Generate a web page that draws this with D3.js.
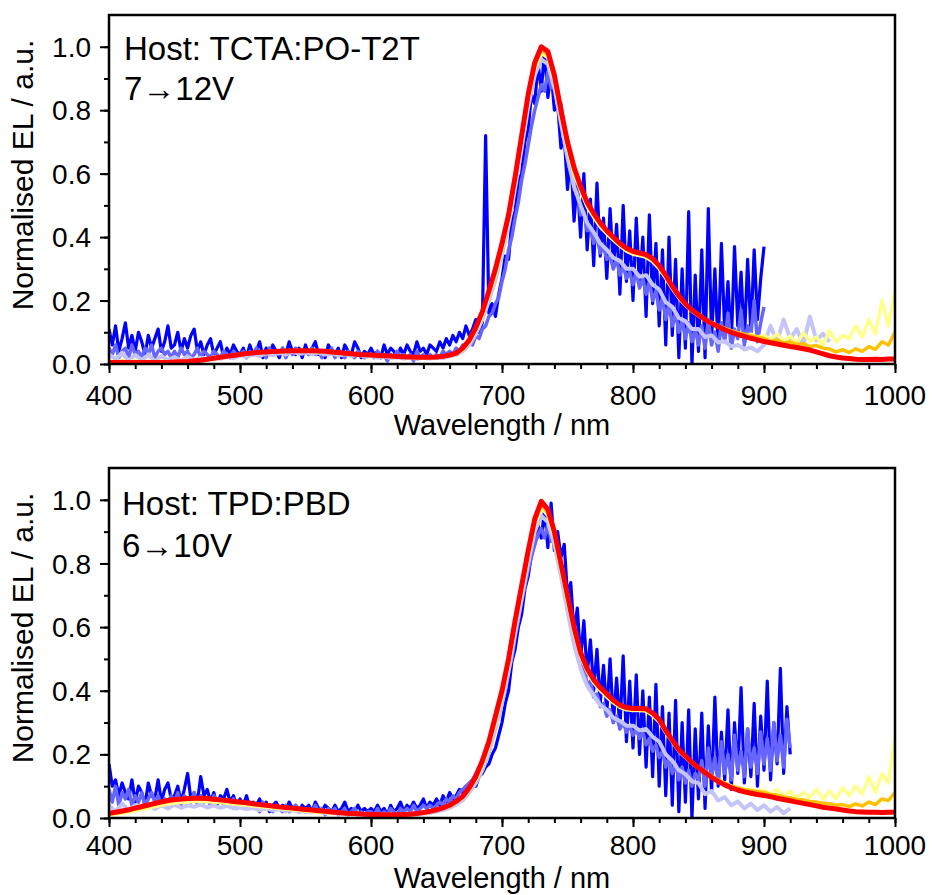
<!DOCTYPE html>
<html>
<head>
<meta charset="utf-8">
<script src="https://cdn.jsdelivr.net/npm/d3@7"></script>
<style>
body { margin: 0; background: #fff; }
text { font-family: "Liberation Sans", Arial, sans-serif; fill: #000; }
</style>
</head>
<body>
<svg id="chart" width="932" height="895"></svg>
<script>
// every spectrum starts at 400 nm; noisy blue traces have one value per 2.5 nm, the rest per 5 nm
var wlStart = 400;
var xMajor = [400, 500, 600, 700, 800, 900, 1000];
var yMajor = [0, 0.2, 0.4, 0.6, 0.8, 1.0];

// ---- top panel, TCTA:PO-T2T, 7 -> 12 V ----
var topRed = [
  .005,.005,.005,.005,.005,.005,.005,.005,.005,.005,
  .006,.007,.008,.010,.012,.015,.018,.021,.024,.027,
  .030,.033,.035,.037,.038,.039,.040,.041,.042,.042,
  .042,.042,.041,.040,.038,.036,.034,.032,.030,.029,
  .028,.027,.026,.025,.024,.023,.022,.021,.021,.021,
  .022,.024,.028,.034,.050,.075,.115,.165,.230,.300,
  .380,.470,.590,.720,.850,.950,1.00,.985,.910,.800,
  .700,.620,.560,.510,.475,.445,.420,.400,.380,.365,
  .355,.350,.345,.332,.310,.280,.245,.215,.190,.170,
  .155,.140,.128,.118,.108,.100,.093,.087,.081,.076,
  .071,.067,.063,.059,.055,.052,.048,.044,.038,.032,
  .026,.022,.019,.017,.015,.014,.014,.015,.014,.016,
  .016
];
var topOrange = [
  .008,.006,.009,.005,.007,.006,.008,.005,.007,.006,
  .008,.008,.010,.011,.014,.016,.019,.022,.025,.028,
  .031,.033,.036,.037,.039,.040,.040,.042,.041,.043,
  .041,.042,.040,.040,.037,.036,.033,.032,.030,.028,
  .028,.026,.026,.024,.024,.022,.022,.020,.021,.020,
  .022,.023,.027,.033,.048,.072,.110,.160,.225,.290,
  .370,.460,.580,.710,.840,.940,.990,.975,.900,.790,
  .690,.610,.555,.505,.470,.440,.418,.398,.378,.362,
  .352,.348,.342,.330,.306,.277,.243,.214,.190,.171,
  .157,.142,.131,.121,.112,.105,.099,.094,.089,.085,
  .080,.072,.076,.066,.070,.062,.064,.055,.058,.050,
  .047,.038,.045,.036,.048,.040,.055,.046,.070,.060,
  .100
];
var topYellow = [
  .012,.004,.010,.006,.011,.003,.009,.005,.010,.004,
  .009,.006,.011,.009,.013,.014,.017,.019,.023,.025,
  .029,.030,.034,.034,.037,.037,.039,.039,.041,.040,
  .041,.039,.040,.037,.037,.034,.033,.030,.030,.027,
  .028,.025,.026,.023,.024,.021,.022,.019,.021,.019,
  .021,.022,.026,.031,.045,.068,.105,.150,.215,.280,
  .360,.450,.570,.700,.830,.930,.980,.965,.890,.780,
  .680,.600,.545,.495,.462,.432,.410,.390,.372,.356,
  .346,.342,.336,.322,.300,.270,.237,.208,.185,.166,
  .152,.138,.127,.118,.110,.102,.098,.090,.094,.085,
  .090,.078,.095,.070,.088,.065,.098,.072,.085,.060,
  .105,.070,.090,.080,.120,.085,.140,.095,.200,.120,
  .230
];
var topLavender = [
  .030,.015,.035,.010,.028,.012,.030,.008,.025,.012,
  .022,.010,.024,.012,.020,.014,.022,.016,.024,.018,
  .028,.022,.032,.025,.034,.028,.036,.030,.038,.032,
  .037,.031,.036,.030,.034,.027,.031,.025,.029,.023,
  .026,.020,.024,.019,.023,.017,.021,.016,.020,.017,
  .020,.019,.024,.028,.040,.060,.095,.140,.200,.265,
  .345,.435,.555,.680,.810,.910,.960,.945,.870,.760,
  .650,.560,.500,.445,.415,.380,.360,.335,.325,.300,
  .300,.275,.280,.250,.235,.195,.180,.145,.135,.110,
  .110,.085,.090,.068,.072,.055,.060,.046,.052,.040,
  .060,.120,.070,.140,.080,.110,.060,.150,.075,.095,
  .070
];
var topMidBlue = [
  .05,.03,.06,.02,.04,.05,.02,.06,.03,.04,.02,.05,.03,.06,.02,.04,.05,.03,.04,.02,
  .04,.02,.05,.03,.04,.02,.03,.05,.02,.04,.03,.02,.04,.03,.02,.04,.03,.02,.04,.03,
  .03,.04,.02,.04,.03,.05,.03,.04,.02,.05,.03,.04,.03,.05,.02,.04,.03,.05,.04,.03,
  .04,.03,.05,.03,.04,.02,.04,.03,.05,.02,.04,.03,.02,.04,.03,.02,.04,.03,.02,.03,
  .03,.02,.04,.02,.03,.01,.03,.02,.04,.02,.03,.02,.03,.01,.04,.02,.03,.02,.03,.02,
  .03,.02,.04,.03,.04,.03,.05,.04,.06,.05,.07,.06,.09,.08,.11,.12,.15,.16,.19,.21,
  .26,.30,.36,.40,.46,.51,.58,.63,.69,.75,.80,.84,.88,.86,.92,.87,.90,.83,.82,.74,
  .66,.62,.55,.54,.47,.48,.42,.43,.38,.40,.35,.37,.33,.34,.30,.33,.28,.31,.27,.29,
  .25,.29,.24,.27,.22,.26,.20,.23,.17,.21,.14,.19,.12,.16,.10,.14,.08,.13,.07,.11,
  .06,.12,.05,.14,.06,.10,.04,.13,.07,.16,.05,.11,.08,.17,.06,.12,.09,.20,.07,.13,
  .18
];
var topBlue = [
  .11,.06,.12,.04,.08,.13,.05,.09,.04,.10,.07,.03,.09,.05,.08,.11,.04,.07,.12,.05,
  .06,.10,.04,.08,.05,.09,.11,.04,.07,.03,.06,.08,.03,.05,.07,.02,.05,.03,.06,.04,
  .03,.05,.02,.06,.03,.04,.07,.02,.05,.03,.06,.04,.02,.05,.03,.07,.04,.03,.05,.02,
  .06,.03,.05,.07,.03,.04,.02,.06,.04,.03,.05,.02,.06,.04,.03,.07,.05,.02,.04,.03,
  .05,.03,.04,.02,.06,.03,.05,.04,.02,.05,.03,.06,.04,.03,.07,.04,.05,.03,.06,.05,
  .04,.07,.05,.08,.06,.09,.07,.10,.08,.12,.09,.11,.14,.10,.13,.72,.16,.19,.15,.22,
  .27,.34,.33,.45,.48,.58,.60,.70,.74,.85,.82,.95,.86,.99,.84,.92,.80,.82,.68,.72,
  .55,.66,.45,.58,.40,.60,.36,.52,.31,.57,.34,.46,.27,.49,.30,.44,.22,.50,.26,.42,
  .20,.46,.24,.40,.15,.47,.19,.38,.12,.36,.06,.40,.09,.33,.02,.30,.05,.48,.00,.28,
  .04,.36,.02,.49,.08,.30,.05,.38,.10,.26,.06,.37,.12,.29,.07,.33,.10,.36,.14,.27,
  .37
];

// ---- bottom panel, TPD:PBD, 6 -> 10 V ----
var botRed = [
  .015,.018,.022,.026,.031,.036,.041,.046,.051,.055,
  .058,.060,.061,.062,.062,.061,.059,.057,.055,.052,
  .050,.048,.045,.042,.040,.038,.035,.033,.031,.029,
  .027,.025,.023,.021,.019,.017,.015,.014,.013,.012,
  .011,.011,.010,.010,.010,.011,.012,.014,.017,.021,
  .026,.032,.040,.052,.068,.095,.130,.180,.240,.320,
  .400,.500,.620,.730,.840,.940,.995,.970,.900,.800,
  .700,.600,.520,.470,.435,.410,.390,.370,.355,.347,
  .344,.344,.343,.330,.310,.275,.245,.215,.195,.175,
  .158,.143,.128,.115,.104,.095,.088,.082,.078,.074,
  .071,.067,.062,.058,.054,.050,.046,.042,.038,.034,
  .031,.028,.025,.022,.020,.019,.018,.018,.017,.018,
  .018
];
var botOrange = [
  .012,.016,.019,.024,.028,.033,.038,.043,.048,.052,
  .055,.057,.059,.060,.060,.059,.057,.055,.053,.050,
  .048,.046,.043,.041,.038,.036,.034,.032,.030,.028,
  .026,.024,.022,.020,.018,.016,.015,.013,.012,.011,
  .010,.010,.010,.009,.010,.010,.011,.013,.016,.020,
  .025,.031,.038,.050,.065,.090,.125,.172,.232,.310,
  .390,.490,.610,.720,.830,.930,.985,.960,.890,.790,
  .690,.592,.515,.466,.432,.407,.387,.368,.353,.345,
  .342,.342,.340,.327,.307,.273,.244,.215,.195,.176,
  .160,.146,.132,.120,.110,.101,.095,.090,.086,.083,
  .080,.074,.072,.066,.064,.058,.057,.052,.050,.046,
  .045,.040,.042,.036,.044,.038,.050,.042,.060,.055,
  .080
];
var botYellow = [
  .008,.012,.014,.019,.022,.027,.031,.036,.040,.044,
  .047,.049,.051,.052,.052,.051,.050,.048,.046,.044,
  .042,.040,.038,.036,.034,.032,.030,.028,.026,.024,
  .022,.020,.019,.017,.016,.014,.013,.012,.011,.010,
  .009,.009,.008,.008,.008,.009,.010,.012,.015,.019,
  .024,.030,.037,.048,.063,.088,.120,.165,.225,.300,
  .380,.480,.600,.710,.820,.920,.975,.950,.880,.780,
  .680,.585,.508,.460,.425,.400,.380,.362,.348,.340,
  .338,.338,.336,.322,.302,.268,.240,.210,.190,.172,
  .156,.142,.130,.118,.108,.100,.094,.088,.092,.082,
  .088,.075,.090,.068,.085,.062,.080,.065,.090,.060,
  .085,.060,.095,.070,.100,.075,.130,.080,.140,.110,
  .250
];
var botLavender = [
  .040,.020,.045,.025,.040,.030,.042,.028,.040,.030,
  .042,.032,.040,.035,.042,.033,.040,.032,.038,.030,
  .034,.028,.032,.025,.030,.024,.028,.022,.025,.020,
  .022,.018,.020,.015,.018,.014,.016,.012,.014,.010,
  .012,.010,.011,.008,.010,.008,.011,.010,.014,.016,
  .020,.025,.032,.042,.055,.080,.110,.150,.205,.280,
  .360,.460,.580,.690,.800,.900,.950,.930,.860,.760,
  .650,.545,.470,.415,.385,.355,.340,.315,.305,.290,
  .290,.275,.280,.255,.240,.200,.180,.150,.138,.115,
  .110,.075,.085,.055,.065,.040,.052,.030,.045,.025,
  .040,.020,.035,.015,.030
];
var botMidBlue = [
  .09,.05,.10,.04,.08,.06,.09,.04,.07,.05,.08,.04,.06,.08,.05,.07,.04,.06,.05,.07,
  .05,.08,.04,.07,.06,.05,.08,.04,.07,.05,.06,.04,.07,.05,.06,.04,.05,.04,.06,.03,
  .05,.03,.04,.05,.03,.04,.02,.05,.03,.04,.02,.04,.03,.02,.04,.02,.03,.04,.02,.03,
  .02,.03,.02,.04,.02,.03,.01,.03,.02,.03,.01,.02,.03,.01,.02,.03,.01,.02,.01,.02,
  .02,.01,.03,.01,.02,.01,.03,.02,.01,.03,.02,.03,.02,.04,.02,.03,.04,.03,.04,.03,
  .04,.05,.04,.06,.05,.07,.06,.08,.09,.10,.11,.12,.14,.16,.18,.20,.23,.25,.29,.32,
  .37,.40,.46,.50,.57,.62,.68,.73,.78,.82,.86,.89,.91,.88,.92,.87,.89,.83,.80,.76,
  .66,.62,.55,.53,.48,.47,.42,.43,.38,.39,.35,.36,.32,.34,.30,.32,.28,.30,.27,.29,
  .26,.28,.25,.27,.23,.25,.21,.23,.19,.21,.16,.19,.14,.17,.12,.16,.11,.15,.10,.14,
  .12,.18,.10,.22,.13,.19,.11,.24,.14,.20,.12,.26,.15,.21,.13,.28,.16,.22,.14,.27,
  .17,.25,.15,.30,.18,.26,.16,.31,.22
];
var botBlue = [
  .17,.10,.12,.07,.11,.08,.06,.12,.05,.10,.08,.04,.11,.07,.06,.12,.05,.09,.11,.06,
  .07,.10,.05,.09,.14,.06,.08,.05,.13,.07,.09,.05,.08,.04,.07,.06,.09,.05,.07,.04,
  .06,.04,.07,.03,.05,.04,.06,.03,.05,.02,.04,.05,.03,.04,.02,.05,.03,.04,.02,.04,
  .03,.04,.02,.05,.03,.02,.04,.03,.02,.04,.02,.03,.05,.02,.03,.02,.04,.02,.03,.02,
  .03,.02,.04,.02,.03,.01,.04,.02,.03,.05,.02,.04,.03,.05,.03,.04,.06,.03,.05,.04,
  .06,.04,.07,.05,.08,.06,.07,.09,.08,.10,.09,.11,.10,.13,.14,.16,.17,.20,.22,.26,
  .30,.36,.40,.49,.53,.60,.64,.72,.76,.83,.86,.92,.88,.97,.85,.99,.84,.90,.82,.86,
  .70,.74,.58,.66,.50,.62,.45,.56,.40,.53,.36,.48,.33,.50,.30,.44,.28,.51,.24,.43,
  .22,.45,.20,.40,.16,.38,.13,.42,.10,.35,.07,.33,.04,.37,.02,.30,.05,.34,.00,.28,
  .06,.33,.03,.29,.08,.38,.10,.27,.12,.34,.09,.30,.14,.41,.11,.28,.13,.36,.10,.32,
  .15,.43,.12,.30,.17,.47,.14,.35,.20
];

// lowest voltage first so the highest (red) ends on top
var colors = ["#0000ff", "#6666ff", "#c4c4f8", "#ffff8c", "#ffc000", "#ff0000"];
var widths = [3.2, 3.5, 4, 3.5, 3.5, 5];
var steps = [2.5, 2.5, 5, 5, 5, 5];

var panels = [
  { top: 15, bottom: 364, series: [topBlue, topMidBlue, topLavender, topYellow, topOrange, topRed],
    text: ["Host: TCTA:PO-T2T", "7\u219212V"], textX: 124, textY: [60, 100],
    tickY: 405, titleY: 435, yTitleMid: 175 },
  { top: 468, bottom: 818, series: [botBlue, botMidBlue, botLavender, botYellow, botOrange, botRed],
    text: ["Host: TPD:PBD", "6\u219210V"], textX: 122, textY: [515, 557],
    tickY: 855, titleY: 888, yTitleMid: 628 }
];

var svg = d3.select("#chart");
var left = 109, right = 895;

var x = d3.scaleLinear().domain([400, 1000]).range([left, right]);

panels.forEach(function(p, pi) {
  var y = d3.scaleLinear().domain([0, 1.1]).range([p.bottom, p.top]);

  svg.append("clipPath")
    .attr("id", "clip" + pi)
    .append("rect")
    .attr("x", left).attr("y", p.top)
    .attr("width", right - left).attr("height", p.bottom - p.top);

  var plot = svg.append("g").attr("clip-path", "url(#clip" + pi + ")");
  p.series.forEach(function(vals, si) {
    var line = d3.line()
      .x(function(d, i) { return x(wlStart + i * steps[si]); })
      .y(function(d) { return y(d); });
    plot.append("path")
      .datum(vals)
      .attr("d", line)
      .attr("fill", "none")
      .attr("stroke", colors[si])
      .attr("stroke-width", widths[si])
      .attr("stroke-linejoin", "round");
  });

  // frame
  svg.append("rect")
    .attr("x", left).attr("y", p.top)
    .attr("width", right - left).attr("height", p.bottom - p.top)
    .attr("fill", "none").attr("stroke", "#000").attr("stroke-width", 2.5);

  // x ticks: minor every 20 nm, major every 100 nm
  var xg = svg.append("g").attr("transform", "translate(0," + p.bottom + ")");
  xg.call(d3.axisBottom(x).tickValues(d3.range(400, 1001, 20)).tickSize(5).tickFormat(""));
  xg.append("g").call(d3.axisBottom(x).tickValues(xMajor).tickSize(9).tickFormat(""));
  xg.selectAll(".domain").remove();
  xg.selectAll("line").attr("stroke", "#000").attr("stroke-width", 2);

  svg.append("g").selectAll("text")
    .data(xMajor)
    .enter()
    .append("text")
    .attr("x", function(d) { return x(d); })
    .attr("y", p.tickY)
    .attr("text-anchor", "middle")
    .attr("font-size", 28)
    .text(function(d) { return d; });

  // y ticks: minor every 0.1, major every 0.2
  var yg = svg.append("g").attr("transform", "translate(" + left + ",0)");
  yg.call(d3.axisLeft(y).tickValues(d3.range(0, 1.05, 0.1)).tickSize(5).tickFormat(""));
  yg.append("g").call(d3.axisLeft(y).tickValues(yMajor).tickSize(9).tickFormat(""));
  yg.selectAll(".domain").remove();
  yg.selectAll("line").attr("stroke", "#000").attr("stroke-width", 2);

  svg.append("g").selectAll("text")
    .data(yMajor)
    .enter()
    .append("text")
    .attr("x", 91)
    .attr("y", function(d) { return y(d); })
    .attr("dy", "0.36em")
    .attr("text-anchor", "end")
    .attr("font-size", 28)
    .text(function(d) { return d.toFixed(1); });

  // axis titles
  svg.append("text")
    .attr("x", (left + right) / 2)
    .attr("y", p.titleY)
    .attr("text-anchor", "middle")
    .attr("font-size", 29)
    .text("Wavelength / nm");

  svg.append("text")
    .attr("transform", "translate(33," + p.yTitleMid + ") rotate(-90)")
    .attr("text-anchor", "middle")
    .attr("font-size", 30)
    .text("Normalised EL / a.u.");

  // sample annotation
  svg.append("g").selectAll("text")
    .data(p.text)
    .enter()
    .append("text")
    .attr("x", p.textX)
    .attr("y", function(d, i) { return p.textY[i]; })
    .attr("font-size", 33)
    .text(function(d) { return d; });
});
</script>
</body>
</html>
